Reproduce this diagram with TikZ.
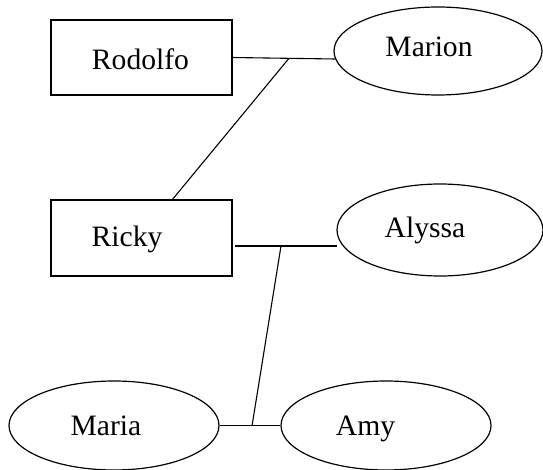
\documentclass[tikz,border=0pt]{standalone}
\usepackage{fontspec}
\setmainfont{Liberation Serif}
\usetikzlibrary{shapes.geometric}
\begin{document}
\begin{tikzpicture}[x=1pt,y=-1pt,
  every path/.style={line width=1.1pt},
  personbox/.style={draw, line width=1.3pt, rectangle, inner sep=0pt, minimum width=181pt},
  personoval/.style={draw, line width=1.2pt, ellipse, inner sep=0pt},
  lbl/.style={anchor=base, inner sep=0pt, font=\fontsize{29.6}{34}\selectfont},
  link/.style={draw, line width=1.1pt}]
\useasboundingbox (0,0) rectangle (543,470);
% shapes
\node[personbox, minimum height=75pt] (Rodolfo) at (141.5,57.5) {};
\node[personbox, minimum height=76pt] (Ricky) at (141.5,238) {};
\node[personoval, minimum width=208pt, minimum height=88pt] (Marion) at (438,51) {};
\node[personoval, minimum width=206pt, minimum height=92pt] (Alyssa) at (440,230) {};
\node[personoval, minimum width=210pt, minimum height=89pt] (Maria) at (114,425.5) {};
\node[personoval, minimum width=210pt, minimum height=89pt] (Amy) at (386,425.5) {};
% labels
\node[lbl] (tRodolfo) at (140.5,70) {Rodolfo};
\node[lbl] (tRicky) at (127,247) {Ricky};
\node[lbl] (tMarion) at (429,57) {Marion};
\node[lbl] (tAlyssa) at (425,238) {Alyssa};
\node[lbl] (tMaria) at (106,435) {Maria};
\node[lbl] (tAmy) at (365.5,435) {Amy};
% connector points
\coordinate (rodR) at (232,57.5);
\coordinate (marL) at (335,59);
\coordinate (j1) at (289,58.3);
\coordinate (rickyTop) at (172,200);
\coordinate (rickyR) at (235,246);
\coordinate (alyL) at (337,246);
\coordinate (j2) at (281,246);
\coordinate (j3) at (252,426);
% connectors
\draw[link] (rodR) -- (marL);
\draw[link] (j1) -- (rickyTop);
\draw[link] (rickyR) -- (alyL);
\draw[link] (j2) -- (j3);
\draw[link] (Maria.east) -- (Amy.west);
\end{tikzpicture}
\end{document}
